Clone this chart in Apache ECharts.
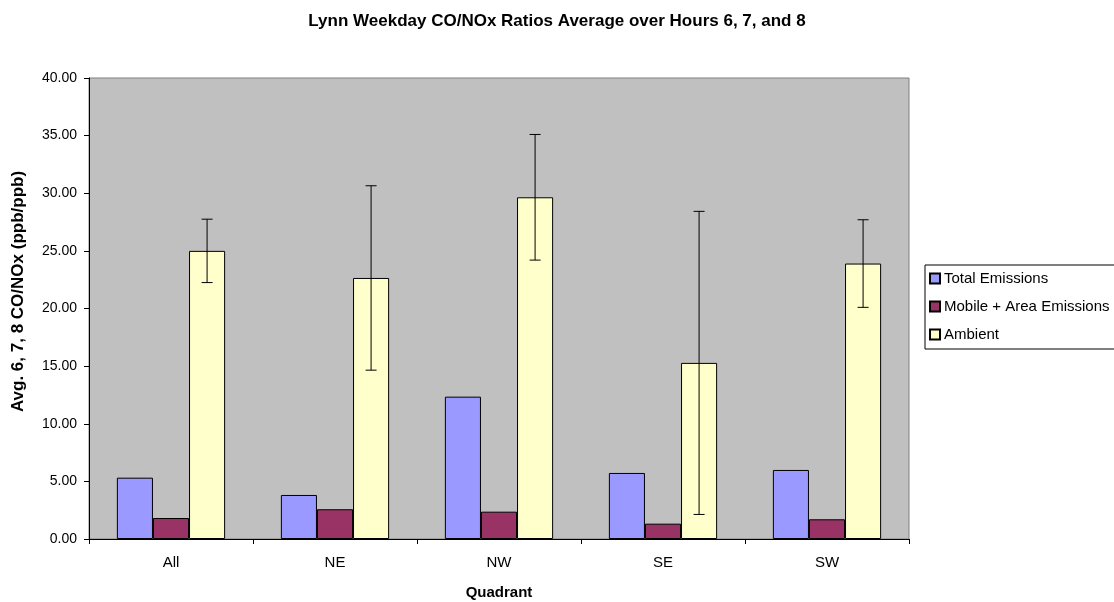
<!DOCTYPE html>
<html>
<head>
<meta charset="utf-8">
<script src="https://cdn.jsdelivr.net/npm/echarts@6/dist/echarts.min.js"></script>
<style>
  html, body { margin: 0; padding: 0; background: #fff; }
  #main { width: 1114px; height: 602px; }
</style>
</head>
<body>
<div id="main"></div>
<script>
var categories = ['All', 'NE', 'NW', 'SE', 'SW'];
var totalEmissions = [5.32, 3.82, 12.35, 5.73, 5.99];
var mobileArea = [1.82, 2.58, 2.37, 1.33, 1.71];
var ambient = [25.0, 22.65, 29.65, 15.28, 23.9];
var ambientErr = [2.75, 8.0, 5.45, 13.15, 3.8];

var barGapPct = 34; // category gap, percent

var dom = document.getElementById('main');
var myChart = echarts.init(dom);

var errData = categories.map(function (c, i) {
    return [i, ambient[i] - ambientErr[i], ambient[i] + ambientErr[i]];
});

function renderErr(params, api) {
    var idx = api.value(0);
    var lo = api.coord([idx, api.value(1)]);
    var hi = api.coord([idx, api.value(2)]);
    var band = api.size([1, 0])[0];
    var bw = band * (1 - barGapPct / 100) / 3;
    var x = lo[0] + bw; // third bar centre
    var cap = 5.5;
    var st = { stroke: '#000', lineWidth: 1 };
    return {
        type: 'group',
        children: [
            { type: 'line', shape: { x1: x, y1: hi[1], x2: x, y2: lo[1] }, style: st },
            { type: 'line', shape: { x1: x - cap, y1: hi[1], x2: x + cap, y2: hi[1] }, style: st },
            { type: 'line', shape: { x1: x - cap, y1: lo[1], x2: x + cap, y2: lo[1] }, style: st }
        ]
    };
}

var font = 'Liberation Sans, Arial, sans-serif';

var option = {
    animation: false,
    backgroundColor: '#fff',
    textStyle: { fontFamily: font },
    title: {
        text: 'Lynn Weekday CO/NOx Ratios Average over Hours 6, 7, and 8',
        left: 'center',
        top: 8,
        textStyle: { fontSize: 17, fontWeight: 'bold', color: '#000', fontFamily: font }
    },
    legend: {
        orient: 'vertical',
        left: 925,
        top: 265,
        icon: 'rect',
        itemWidth: 10,
        itemHeight: 10,
        itemGap: 13,
        padding: [6, 10, 7, 4],
        borderColor: '#000',
        borderWidth: 1,
        backgroundColor: '#fff',
        textStyle: { fontSize: 15, color: '#000', fontFamily: font, padding: [0, 0, 0, -1] },
        data: ['Total Emissions', 'Mobile + Area Emissions', 'Ambient']
    },
    grid: {
        left: 89,
        right: 205,
        top: 78,
        bottom: 63,
        containLabel: false,
        outerBoundsMode: 'none',
        show: true,
        backgroundColor: '#C0C0C0',
        borderColor: '#808080',
        borderWidth: 1
    },
    xAxis: {
        type: 'category',
        data: categories,
        name: 'Quadrant',
        nameLocation: 'middle',
        nameGap: 46,
        nameTextStyle: { fontSize: 15, fontWeight: 'bold', color: '#000' },
        axisLine: { lineStyle: { color: '#000' } },
        axisTick: { show: true, length: 5, inside: false, lineStyle: { color: '#000' } },
        axisLabel: { fontSize: 15, color: '#000', margin: 16 }
    },
    yAxis: {
        type: 'value',
        min: 0,
        max: 40,
        interval: 5,
        name: 'Avg. 6, 7, 8 CO/NOx (ppb/ppb)',
        nameLocation: 'middle',
        nameGap: 62,
        nameTextStyle: { fontSize: 17, fontWeight: 'bold', color: '#000', padding: [0, 0, 0, 34] },
        axisLine: { show: true, lineStyle: { color: '#000' } },
        axisTick: { show: true, length: 5, lineStyle: { color: '#000' } },
        splitLine: { show: false },
        axisLabel: {
            fontSize: 14, color: '#000', margin: 12,
            formatter: function (v) { return v.toFixed(2); }
        }
    },
    series: [
        {
            name: 'Total Emissions',
            type: 'bar',
            data: totalEmissions,
            barGap: '0%',
            barCategoryGap: barGapPct + '%',
            itemStyle: { color: '#9999FF', borderColor: '#000', borderWidth: 1 }
        },
        {
            name: 'Mobile + Area Emissions',
            type: 'bar',
            data: mobileArea,
            itemStyle: { color: '#993366', borderColor: '#000', borderWidth: 1 }
        },
        {
            name: 'Ambient',
            type: 'bar',
            data: ambient,
            itemStyle: { color: '#FFFFCC', borderColor: '#000', borderWidth: 1 }
        },
        {
            name: 'err',
            type: 'custom',
            renderItem: renderErr,
            data: errData,
            encode: { x: 0, y: [1, 2] },
            z: 10
        }
    ]
};

myChart.setOption(option);
</script>
</body>
</html>
